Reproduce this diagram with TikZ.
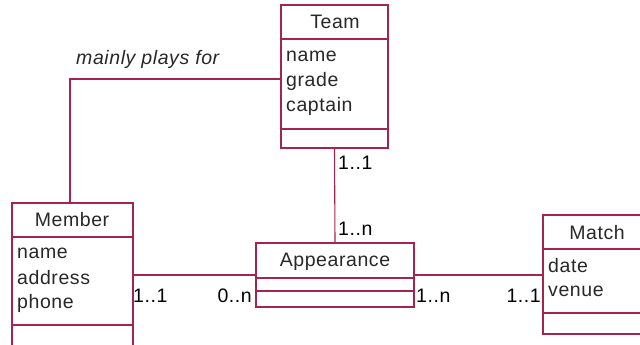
\documentclass[tikz,border=0pt]{standalone}
\usepackage{fontspec}
\setmainfont[LetterSpace=3]{Liberation Sans}
\definecolor{umlline}{RGB}{165,35,80}
\definecolor{umltext}{RGB}{40,40,40}
\begin{document}
\begin{tikzpicture}[x=1pt,y=-1pt,
  classbox/.style={draw=umlline, line width=1.1pt, rectangle, inner sep=0pt},
  sepline/.style={draw=umlline, line width=1.1pt},
  conn/.style={draw=umlline, line width=1.1pt},
  title/.style={font=\fontsize{19.5}{22}\selectfont, text=umltext, inner sep=0pt},
  attr/.style={font=\fontsize{19.5}{22}\selectfont, text=umltext, inner sep=0pt, anchor=west},
  mult/.style={font=\fontsize{19.5}{22}\selectfont, text=black, inner sep=0pt},
  role/.style={font=\fontsize{19.5}{22}\selectfont\itshape, text=umltext, inner sep=0pt}]
\useasboundingbox (0,0) rectangle (640,345);
\fill[white] (0,0) rectangle (640,345);

% Team
\node[classbox, minimum width=107pt, minimum height=143pt] (team) at (334.5,76.5) {};
\draw[sepline] (281,39) -- (388,39);
\draw[sepline] (281,129) -- (388,129);
\node[title] (teamt) at (335,22) {Team};
\node[attr] (tname) at (286,56) {name};
\node[attr] (tgrade) at (286,81) {grade};
\node[attr] (tcapt) at (286,106) {captain};

% Member
\node[classbox, minimum width=121pt, minimum height=147pt] (member) at (72.5,276.5) {};
\draw[sepline] (12,237) -- (133,237);
\draw[sepline] (12,325) -- (133,325);
\node[title] (membert) at (72,220) {Member};
\node[attr] (mname) at (17,253) {name};
\node[attr] (maddr) at (17,278) {address};
\node[attr] (mphone) at (17,303) {phone};

% Appearance
\node[classbox, minimum width=158pt, minimum height=64pt] (app) at (335,275) {};
\draw[sepline] (256,278) -- (414,278);
\draw[sepline] (256,291) -- (414,291);
\node[title] (appt) at (335,262) {Appearance};

% Match
\node[classbox, minimum width=107pt, minimum height=119pt] (match) at (596.5,274.5) {};
\draw[sepline] (543,249) -- (650,249);
\draw[sepline] (543,313) -- (650,313);
\node[title] (matcht) at (597,233) {Match};
\node[attr] (mdate) at (548,266) {date};
\node[attr] (mvenue) at (548,291) {venue};

% connectors
\coordinate (bend) at (70,79);
\draw[conn] (member.north -| bend) -- (bend) -- (bend -| team.west);
\draw[conn] (team.south) -- (app.north);
\draw[conn] (member.east |- app.west) -- (app.west);
\draw[conn] (app.east) -- (app.east -| match.west);

% labels
\node[role, anchor=west] (plays) at (76,59) {mainly plays for};
\node[mult, anchor=west] (m1) at (338,163) {1..1};
\node[mult, anchor=west] (m2) at (338,229) {1..n};
\node[mult, anchor=west] (m3) at (133,296) {1..1};
\node[mult, anchor=east] (m4) at (252,296) {0..n};
\node[mult, anchor=west] (m5) at (416,296) {1..n};
\node[mult, anchor=east] (m6) at (541,296) {1..1};
\end{tikzpicture}
\end{document}
